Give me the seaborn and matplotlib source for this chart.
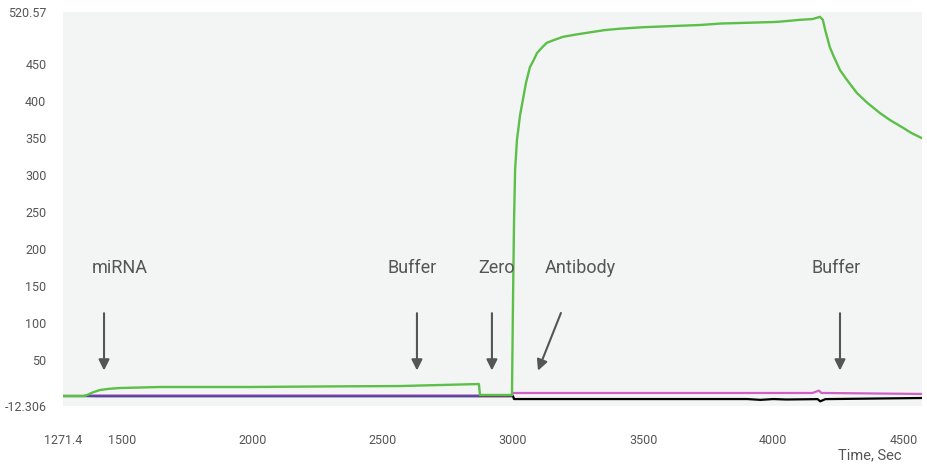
import numpy as np
import pandas as pd
import matplotlib
matplotlib.use("Agg")
import matplotlib.pyplot as plt
import seaborn as sns

# sensorgram values (time in s, response)
green_t = [1271.4, 1356, 1385, 1413, 1450, 1490, 1644, 1990, 2300, 2566, 2869, 2873, 2996,
           3000, 3004, 3008, 3015, 3027, 3038, 3050, 3065, 3080, 3092, 3110, 3130, 3160,
           3192, 3240, 3295, 3350, 3411, 3500, 3718, 3800, 4000, 4025, 4102, 4150, 4179,
           4190, 4200, 4217, 4230, 4256, 4280, 4321, 4360, 4409, 4450, 4498, 4530, 4570]
green_v = [1.2, 1.2, 6.0, 9.3, 11.0, 12.0, 13.4, 13.4, 14.2, 14.7, 17.4, 2.6, 2.6,
           131, 239, 307, 347, 381, 402, 425, 446, 456, 465, 472, 479, 483,
           487, 490, 493, 496, 498, 500, 503, 505, 507, 507.5, 510, 511, 514,
           510, 495, 473, 462, 442, 430, 411, 398, 384, 374, 364, 357, 350]

pink_t = [1356, 2996, 3000, 4150, 4175, 4185, 4200, 4570]
pink_v = [2.0, 2.0, 5.3, 5.3, 8.5, 5.3, 5.3, 4.0]

blue_t = [1356, 2869]
blue_v = [1.5, 1.5]

black_t = [1271.4, 1356, 1400, 3000, 3004, 3900, 3950, 4000, 4050, 4170, 4180, 4200, 4570]
black_v = [1.2, 1.2, 1.0, 1.0, -2.9, -2.9, -4.0, -2.9, -3.5, -3.0, -6.0, -3.0, -1.5]

events = ["miRNA", "Buffer", "Zero", "Antibody", "Buffer"]
event_label_t = [1490, 2612, 2938, 3257, 4240]
arrow_tip_t = [1429, 2631, 2919, 3092, 4256]
arrow_tail_t = [1429, 2631, 2919, 3188, 4256]

x_ticks = [1271.4, 1500, 2000, 2500, 3000, 3500, 4000, 4500]
x_tick_labels = ["1271.4", "1500", "2000", "2500", "3000", "3500", "4000", "4500"]
y_ticks = [-12.306, 50, 100, 150, 200, 250, 300, 350, 400, 450, 520.57]
y_tick_labels = ["-12.306", "50", "100", "150", "200", "250", "300", "350", "400", "450", "520.57"]

sns.set_style("white")
plt.rcParams["font.family"] = ["Roboto", "DejaVu Sans"]

fig = plt.figure(figsize=(9.28, 4.68), dpi=100)
ax = fig.add_axes([63 / 928, 62 / 468, 859 / 928, 394 / 468])
ax.set_facecolor("#f3f5f5")

sns.lineplot(x=black_t, y=black_v, color="black", lw=1.6, ax=ax)
sns.lineplot(x=pink_t, y=pink_v, color="#d060c8", lw=1.6, ax=ax)
sns.lineplot(x=blue_t, y=blue_v, color="#5048b0", lw=1.3, ax=ax)
sns.lineplot(x=green_t, y=green_v, color="#5cbf48", lw=1.7, ax=ax)

for name, lt, tip, tail in zip(events, event_label_t, arrow_tip_t, arrow_tail_t):
    ax.text(lt, 174, name, ha="center", va="center", fontsize=13, color="#555555")
    ax.annotate("", xy=(tip, 32), xytext=(tail, 117),
                arrowprops=dict(arrowstyle="-|>", color="#555555", lw=1.5,
                                mutation_scale=16))

ax.set_xlim(1271.4, 4571)
ax.set_ylim(-12.306, 520.57)
ax.set_xticks(x_ticks)
ax.set_xticklabels(x_tick_labels)
ax.set_yticks(y_ticks)
ax.set_yticklabels(y_tick_labels)
ax.tick_params(axis="x", length=0, pad=20, labelsize=9, labelcolor="#555555")
ax.tick_params(axis="y", length=0, pad=12, labelsize=9, labelcolor="#555555")
sns.despine(ax=ax, left=True, bottom=True)

fig.text(870 / 928, 1 - 455 / 468, "Time, Sec", ha="center", va="center",
         fontsize=10.5, color="#555555")

fig.savefig("out.png", dpi=100)
